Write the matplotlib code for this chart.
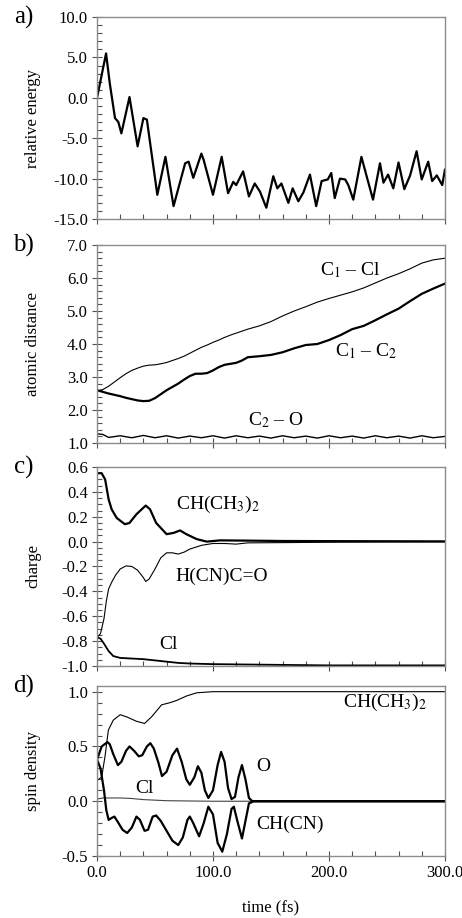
import matplotlib
matplotlib.use('Agg')
from matplotlib import pyplot as plt
from matplotlib.ticker import MultipleLocator, FormatStrFormatter

# a) relative energy
t_energy = [0, 7.8, 11, 15.5, 18.4, 21, 28, 35, 40, 43, 52, 59, 66, 76, 79, 83, 90, 92,
            100, 107.5, 113, 117.5, 120, 126, 131, 136, 140.5, 146, 152, 155.5, 159, 165,
            168.7, 173.6, 178, 183.6, 189, 193.7, 199, 202, 205, 209.5, 214, 216.7, 221,
            228, 232.5, 238, 244, 247, 251, 255.5, 260, 265, 270, 275.6, 280, 285.6, 289,
            293, 297.7, 300]
energy = [0.0, 5.5, 1.8, -2.5, -3.0, -4.4, 0.1, -6.0, -2.5, -2.7, -12.0, -7.3, -13.4, -8.1,
          -7.9, -9.9, -6.9, -7.7, -12.0, -7.3, -11.8, -10.4, -10.8, -9.1, -12.2, -10.6, -11.6,
          -13.6, -9.7, -11.2, -10.6, -13.0, -11.2, -12.8, -11.7, -9.5, -13.4, -10.3, -10.1,
          -9.3, -12.4, -10.0, -10.1, -10.8, -12.6, -7.3, -9.7, -12.6, -8.1, -10.5, -9.5,
          -11.2, -8.0, -11.3, -9.6, -6.6, -10.1, -7.9, -10.3, -9.6, -10.8, -8.9]

# b) atomic distances
t_dist = [0, 5, 10, 15, 20, 25, 30, 35, 40, 45, 50, 55, 60, 65, 70, 75, 80, 85, 90, 95,
          100, 105, 110, 115, 120, 125, 130, 140, 150, 160, 170, 180, 190, 200, 210, 220,
          230, 240, 250, 260, 270, 280, 290, 300]
c1_cl = [2.58, 2.62, 2.72, 2.85, 2.98, 3.1, 3.2, 3.27, 3.33, 3.36, 3.37, 3.4, 3.44, 3.5,
         3.56, 3.63, 3.72, 3.81, 3.9, 3.97, 4.05, 4.12, 4.2, 4.27, 4.33, 4.39, 4.45, 4.55,
         4.68, 4.85, 5.0, 5.13, 5.27, 5.38, 5.48, 5.58, 5.7, 5.85, 6.0, 6.13, 6.28, 6.45,
         6.55, 6.6]
c1_c2 = [2.6, 2.55, 2.5, 2.46, 2.42, 2.37, 2.33, 2.29, 2.27, 2.28, 2.36, 2.48, 2.6, 2.7,
         2.8, 2.92, 3.03, 3.1, 3.1, 3.12, 3.2, 3.3, 3.37, 3.4, 3.43, 3.5, 3.6, 3.63, 3.67,
         3.75, 3.87, 3.97, 4.0, 4.12, 4.27, 4.45, 4.55, 4.72, 4.9, 5.07, 5.3, 5.52, 5.68,
         5.83]
t_co = [0, 5, 10, 20, 30, 40, 50, 60, 70, 80, 90, 100, 110, 120, 130, 140, 150, 160, 170,
        180, 190, 200, 210, 220, 230, 240, 250, 260, 270, 280, 290, 300]
c2_o = [1.28, 1.26, 1.17, 1.22, 1.16, 1.23, 1.16, 1.22, 1.15, 1.21, 1.16, 1.22, 1.15, 1.22,
        1.16, 1.21, 1.15, 1.22, 1.16, 1.21, 1.15, 1.22, 1.16, 1.21, 1.15, 1.22, 1.16, 1.21,
        1.15, 1.22, 1.16, 1.2]

# c) charges
t_chg = [0, 4, 7, 10, 12.6, 17, 24, 28, 34, 42, 45.7, 51, 60, 66, 71.6, 77, 86, 94.6, 106,
         130, 160, 200, 250, 300]
chg_iso = [0.55, 0.55, 0.5, 0.34, 0.26, 0.19, 0.14, 0.15, 0.22, 0.29, 0.26, 0.15, 0.06,
           0.07, 0.09, 0.06, 0.02, 0.0, 0.01, 0.008, 0.005, 0.004, 0.003, 0.002]
t_chg2 = [0, 3, 6, 8, 10, 13, 16, 20, 25, 30, 35, 40, 42, 45, 50, 55, 60, 65, 70, 75, 80,
          90, 100, 110, 120, 130, 160, 200, 250, 300]
chg_hcn = [-0.77, -0.74, -0.62, -0.48, -0.38, -0.32, -0.27, -0.22, -0.195, -0.2, -0.23,
           -0.29, -0.32, -0.3, -0.22, -0.13, -0.09, -0.09, -0.1, -0.085, -0.06, -0.03,
           -0.015, -0.015, -0.02, -0.01, -0.008, -0.005, -0.003, -0.002]
t_chg3 = [0, 3, 6, 10, 14, 20, 30, 40, 50, 60, 70, 80, 100, 150, 200, 300]
chg_cl = [-0.77, -0.78, -0.82, -0.88, -0.92, -0.935, -0.94, -0.945, -0.955, -0.965,
          -0.975, -0.98, -0.985, -0.99, -0.995, -0.995]

# d) spin densities
t_spin1 = [0, 4, 6.9, 9.8, 14, 20, 25.6, 34, 41, 47, 55.7, 63, 68.7, 77, 86, 100, 150,
           200, 250, 300]
spin_iso = [0.19, 0.22, 0.41, 0.65, 0.74, 0.79, 0.77, 0.73, 0.71, 0.77, 0.88, 0.9, 0.92,
            0.96, 0.99, 1.0, 1.0, 1.0, 1.0, 1.0]
t_spin_o = [0, 4, 9, 11, 14, 18, 21, 25, 28, 32, 36, 39, 43, 46, 49, 53, 56, 60, 65, 69,
            73, 77, 80, 84, 87, 90, 93, 96, 100, 104, 107, 110, 113, 116, 119, 122, 125,
            128, 131, 134, 200, 300]
spin_o = [0.38, 0.5, 0.54, 0.52, 0.43, 0.33, 0.36, 0.46, 0.5, 0.46, 0.41, 0.42, 0.5, 0.53,
          0.48, 0.35, 0.23, 0.27, 0.42, 0.48, 0.36, 0.2, 0.15, 0.22, 0.32, 0.26, 0.1, 0.03,
          0.1, 0.33, 0.45, 0.36, 0.12, 0.02, 0.04, 0.22, 0.33, 0.2, 0.03, 0.0, 0.0, 0.0]
t_spin_cn = [0, 3, 6, 8, 10, 13, 15, 18, 22, 26, 30, 34, 37, 41, 44, 48, 51, 55, 60, 65,
             70, 74, 78, 80, 83, 88, 92, 96, 100, 104, 108, 112, 116, 118, 121, 125, 128,
             131, 135, 200, 300]
spin_cn = [0.38, 0.3, 0.1, -0.08, -0.17, -0.15, -0.14, -0.19, -0.26, -0.29, -0.24, -0.14,
           -0.17, -0.27, -0.26, -0.14, -0.13, -0.18, -0.27, -0.36, -0.4, -0.33, -0.17,
           -0.14, -0.2, -0.32, -0.2, -0.05, -0.12, -0.38, -0.46, -0.3, -0.07, -0.05, -0.18,
           -0.34, -0.18, -0.02, 0.0, 0.0, 0.0]
t_spin_cl = [0, 5, 20, 30, 40, 60, 100, 300]
spin_cl = [0.02, 0.03, 0.03, 0.025, 0.015, 0.005, 0.0, 0.0]

plt.rcParams['font.family'] = 'Liberation Serif'
plt.rcParams['axes.unicode_minus'] = False
plt.rcParams['mathtext.fontset'] = 'stix'

fig = plt.figure(figsize=(4.62, 9.18), dpi=100)
left, width = 0.21, 0.753
ax_a = fig.add_axes([left, 0.7614, width, 0.220])
ax_b = fig.add_axes([left, 0.5174, width, 0.2157])
ax_c = fig.add_axes([left, 0.2745, width, 0.2168])
ax_d = fig.add_axes([left, 0.0675, width, 0.185])

frame_col = '#8c8c8c'
tick_col = '#505050'


def style(ax, ylim, major, minor, ylabel, letter, show_x=False):
    ax.set_xlim(0, 300)
    ax.set_ylim(*ylim)
    ax.xaxis.set_major_locator(MultipleLocator(100))
    ax.xaxis.set_minor_locator(MultipleLocator(20))
    ax.yaxis.set_major_locator(MultipleLocator(major))
    ax.yaxis.set_minor_locator(MultipleLocator(minor))
    ax.yaxis.set_major_formatter(FormatStrFormatter('%.1f'))
    ax.xaxis.set_major_formatter(FormatStrFormatter('%.1f'))
    for s in ax.spines.values():
        s.set_color(frame_col)
        s.set_linewidth(1.0)
    ax.tick_params(which='major', direction='inout', length=7, width=0.8,
                   color=tick_col, labelsize=12, pad=3)
    ax.tick_params(which='minor', direction='in', length=3.5, width=0.8, color=tick_col)
    ax.tick_params(top=False, right=False, which='both')
    if not show_x:
        ax.tick_params(labelbottom=False)
    ax.set_ylabel(ylabel, fontsize=12)
    ax.yaxis.set_label_coords(-0.16, 0.5)
    ax.text(-0.21, 1.0, letter, transform=ax.transAxes, fontsize=18,
            ha='center', va='center')


# a)
ax_a.plot(t_energy, energy, color='black', lw=1.6)
style(ax_a, (-15, 10), 5, 1, 'relative energy', 'a)')

# b)
ax_b.plot(t_dist, c1_cl, color='black', lw=0.8)
ax_b.plot(t_dist, c1_c2, color='black', lw=1.6)
ax_b.plot(t_co, c2_o, color='black', lw=1.0)
style(ax_b, (1, 7), 1, 0.2, 'atomic distance', 'b)')
ax_b.text(192, 6.24, r'C$_1$ – Cl', fontsize=14, va='center')
ax_b.text(205, 3.77, r'C$_1$ – C$_2$', fontsize=14, va='center')
ax_b.text(130, 1.7, r'C$_2$ – O', fontsize=14, va='center')

# c)
ax_c.plot(t_chg, chg_iso, color='black', lw=1.6)
ax_c.plot(t_chg2, chg_hcn, color='black', lw=0.8)
ax_c.plot(t_chg3, chg_cl, color='black', lw=1.3)
style(ax_c, (-1.0, 0.6), 0.2, 0.05, 'charge', 'c)')
ax_c.text(68, 0.295, r'CH(CH$_3$)$_2$', fontsize=14, va='center')
ax_c.text(68, -0.28, 'H(CN)C=O', fontsize=14, va='center')
ax_c.text(53.6, -0.83, 'Cl', fontsize=14, va='center')

# d)
ax_d.plot(t_spin_cl, spin_cl, color='#444444', lw=0.8)
ax_d.plot(t_spin1, spin_iso, color='black', lw=0.8)
ax_d.plot(t_spin_o, spin_o, color='black', lw=1.6)
ax_d.plot(t_spin_cn, spin_cn, color='black', lw=1.6)
style(ax_d, (-0.5, 1.05), 0.5, 0.1, 'spin density', 'd)', show_x=True)
ax_d.text(212, 0.9, r'CH(CH$_3$)$_2$', fontsize=14, va='center')
ax_d.text(137, 0.315, 'O', fontsize=14, va='center')
ax_d.text(32.8, 0.12, 'Cl', fontsize=14, va='center')
ax_d.text(137, -0.21, 'CH(CN)', fontsize=14, va='center')
ax_d.set_xlabel('time (fs)', fontsize=12, labelpad=14)

fig.savefig('out.png', dpi=100)
